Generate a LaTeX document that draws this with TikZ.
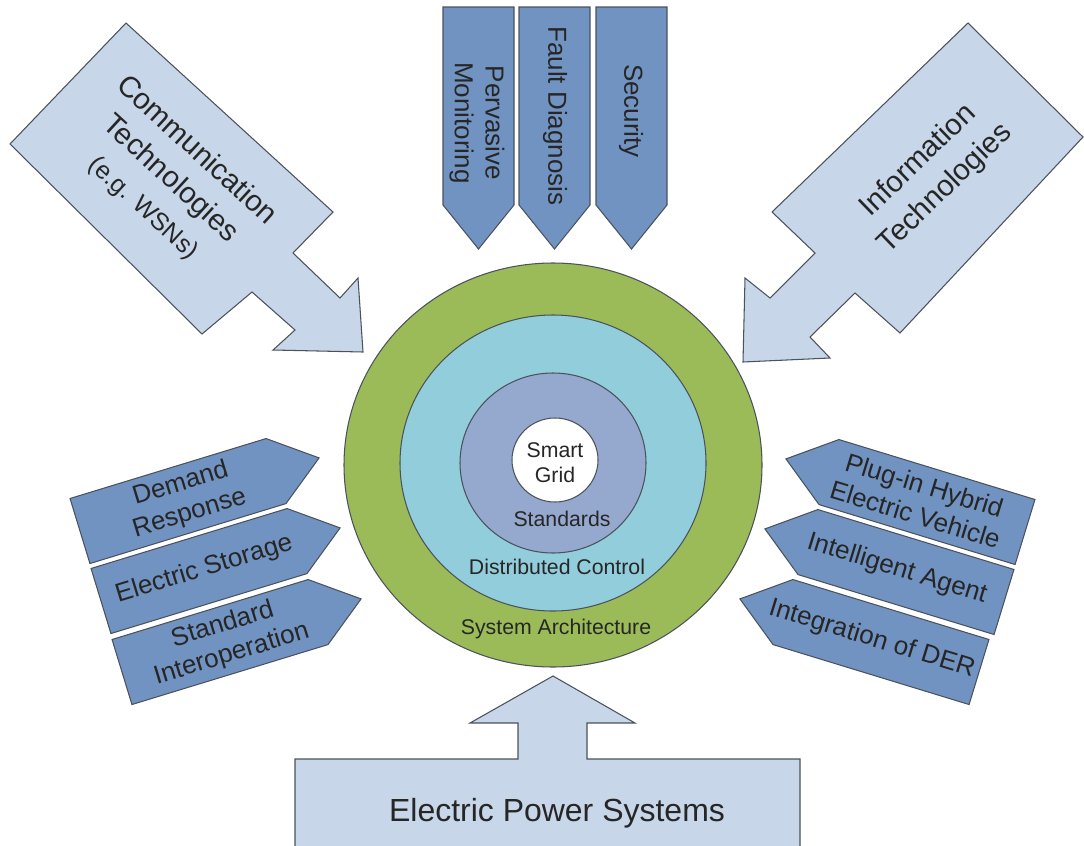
\documentclass[tikz,border=0pt]{standalone}
\usepackage{fontspec}
\setmainfont{Liberation Sans}
\definecolor{arrowdark}{RGB}{113,147,193}
\definecolor{arrowlight}{RGB}{199,214,232}
\definecolor{ringgreen}{RGB}{155,187,89}
\definecolor{ringcyan}{RGB}{146,205,220}
\definecolor{ringblue}{RGB}{149,168,206}
\definecolor{edgegray}{RGB}{75,82,92}
\begin{document}
\begin{tikzpicture}[x=0.02cm, y=-0.02cm, every node/.style={text=black!85, inner sep=0pt, align=center},
    bigarrow/.style={fill=arrowlight, draw=edgegray, line width=0.6pt},
    tagarrow/.style={fill=arrowdark, draw=edgegray, line width=0.6pt},
    ring/.style={draw=edgegray, line width=0.6pt},
    bigtext/.style={font=\fontsize{16.8}{22}\selectfont},
    tagtext/.style={font=\fontsize{14.8}{17.5}\selectfont},
    ringtext/.style={font=\fontsize{12.1}{14.2}\selectfont}]
    \useasboundingbox (0,0) rectangle (1084,845);
    \draw[bigarrow] (10,144) -- (126,23) -- (333,212) -- (293,253) -- (340,298) -- (358,278) -- (363,352) -- (273,350) -- (295,330) -- (252,292) -- (202,334) -- cycle;
    \draw[bigarrow] (968,23) -- (1083,137) -- (900,333) -- (855,293) -- (810,337) -- (830,358) -- (743,362) -- (745,278) -- (770,298) -- (815,253) -- (772,212) -- cycle;
    \draw[bigarrow] (295,850) -- (295,759) -- (518,759) -- (518,723) -- (470,723) -- (553,676) -- (635,723) -- (587,723) -- (587,759) -- (800,759) -- (800,850);
    \node[bigtext, rotate=-42.5] (comm) at (170,179) {Communication\\Technologies\\{\fontsize{14.2}{17}\selectfont(e.g. WSNs)}};
    \node[bigtext, rotate=44] (info) at (932,175) {Information\\Technologies};
    \node[font=\fontsize{18.2}{22}\selectfont] (eps) at (557,813) {Electric Power Systems};
    \draw[ring, fill=ringgreen] (553,465) ellipse [x radius=209, y radius=202];
    \draw[ring, fill=ringcyan] (553,463) ellipse [x radius=153, y radius=148];
    \draw[ring, fill=ringblue] (553,463) ellipse [x radius=93, y radius=90];
    \draw[ring, fill=white] (555,460) ellipse [x radius=43, y radius=42];
    \node[ringtext] (sg) at (555,463) {Smart\\Grid};
    \node[ringtext] (std) at (562,519) {Standards};
    \node[ringtext] (dc) at (557,567) {Distributed Control};
    \node[ringtext] (sa) at (556,629) {System Architecture};
    \draw[tagarrow] (443,7) -- (514,7) -- (514,205) -- (478.5,249) -- (443,205) -- cycle;
    \draw[tagarrow] (519,7) -- (590,7) -- (590,205) -- (554.5,249) -- (519,205) -- cycle;
    \draw[tagarrow] (596,7) -- (667,7) -- (667,205) -- (631.5,249) -- (596,205) -- cycle;
    \node[tagtext, rotate=-90] (pm) at (477,123) {Pervasive\\Monitoring};
    \node[tagtext, rotate=-90] (fd) at (555,116) {Fault Diagnosis};
    \node[tagtext, rotate=-90] (sec) at (631,111) {Security};
    \begin{scope}[shift={(80,531)}, rotate=17]
        \draw[tagarrow] (0,-34) -- (205,-34) -- (250,0) -- (205,34) -- (0,34) -- cycle;
        \node[tagtext, rotate=17] (dr) at (110,0) {Demand\\Response};
    \end{scope}
    \begin{scope}[shift={(101,601)}, rotate=17]
        \draw[tagarrow] (0,-34) -- (205,-34) -- (250,0) -- (205,34) -- (0,34) -- cycle;
        \node[tagtext, rotate=17] (es) at (108,0) {Electric Storage};
    \end{scope}
    \begin{scope}[shift={(122,672)}, rotate=17]
        \draw[tagarrow] (0,-34) -- (205,-34) -- (250,0) -- (205,34) -- (0,34) -- cycle;
        \node[tagtext, rotate=17] (si) at (110,0) {Standard\\Interoperation};
    \end{scope}
    \begin{scope}[shift={(1025,532)}, rotate=-17]
        \draw[tagarrow] (0,-34) -- (-205,-34) -- (-250,0) -- (-205,34) -- (0,34) -- cycle;
        \node[tagtext, rotate=-17] (phev) at (-110,0) {Plug-in Hybrid\\Electric Vehicle};
    \end{scope}
    \begin{scope}[shift={(1004,602)}, rotate=-17]
        \draw[tagarrow] (0,-34) -- (-205,-34) -- (-250,0) -- (-205,34) -- (0,34) -- cycle;
        \node[tagtext, rotate=-17] (ia) at (-112,0) {Intelligent Agent};
    \end{scope}
    \begin{scope}[shift={(979,672)}, rotate=-17]
        \draw[tagarrow] (0,-34) -- (-205,-34) -- (-250,0) -- (-205,34) -- (0,34) -- cycle;
        \node[tagtext, rotate=-17] (der) at (-112,0) {Integration of DER};
    \end{scope}
\end{tikzpicture}
\end{document}
